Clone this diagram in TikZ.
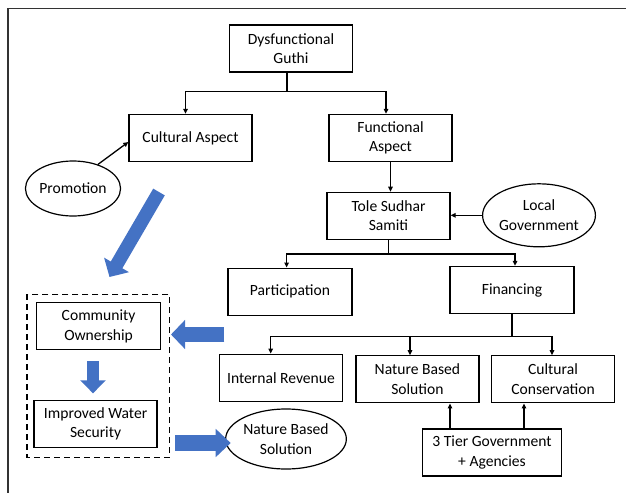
\documentclass[tikz,border=0pt]{standalone}
\usepackage{fontspec}
\setmainfont{Carlito}
\usetikzlibrary{arrows.meta,shapes.geometric}
\definecolor{ppblue}{RGB}{68,114,196}
\tikzset{
  >={Triangle[length=5pt,width=4.5pt]},
  blk/.style={draw,line width=1.3pt,minimum width=123pt,minimum height=47pt,
    align=center,inner sep=1pt,font=\fontsize{15.6}{19.5}\selectfont},
  oval/.style={ellipse,draw,line width=1.2pt,inner sep=0pt,align=center,
    font=\fontsize{15.6}{19.5}\selectfont},
  flow/.style={->,line width=1.3pt},
  fat/.style args={#1/#2/#3}{ppblue,line width=#1,-{Triangle[width=#2,length=#3]}},
}
\begin{document}
\begin{tikzpicture}[x=1pt,y=-1pt]
  \useasboundingbox (0,0) rectangle (626,493);
  \draw[line width=1.3pt,black!80] (626,8.3) -- (8,8.3) -- (8,493);
  % tree
  \node[blk] (dg) at (291,48.5) {Dysfunctional\\Guthi};
  \node[blk] (ca) at (190.5,138) {Cultural Aspect};
  \node[blk] (fa) at (390.5,138) {Functional\\Aspect};
  \node[blk] (ts) at (388.5,215.8) {Tole Sudhar\\Samiti};
  \node[blk,minimum width=124pt] (pa) at (290,291.7) {Participation};
  \node[blk,minimum width=124pt] (fi) at (512,290) {Financing};
  \foreach \n/\x/\y/\t in {ir/281/377.7/{Internal Revenue},nb/417.4/379.3/{Nature Based\\Solution},cc/553/379.3/{Cultural\\Conservation}}
    \node[blk] (\n) at (\x,\y) {\t};
  \node[blk,minimum width=139pt] (tg) at (492,452.5) {3 Tier Government\\+ Agencies};
  \node[oval,minimum width=106pt,minimum height=63pt] (lg) at (539,215.3) {Local\\Government};
  \node[oval,minimum width=86pt,minimum height=55pt] (pr) at (73,188.5) {Promotion};
  % left group
  \node[blk,minimum width=124pt] (co) at (98.6,326.3) {Community\\Ownership};
  \node[blk] (iw) at (95.6,423.7) {Improved Water\\Security};
  \node[oval,minimum width=106pt,minimum height=60pt] (ns) at (286,439) {Nature Based\\Solution};
  \draw[line width=1.3pt,dash pattern=on 6pt off 4pt] (27,294.3) rectangle (169.7,457.3);
  % connectors
  \draw[line width=1.3pt] ([xshift=-4pt]dg.south) -- ++(0,18.7) coordinate (j1);
  \draw[flow] (j1) -| ([xshift=-5pt]ca.north);
  \draw[flow] (j1) -| ([xshift=-4.5pt]fa.north);
  \draw[flow] (fa.south) -- (fa.south |- ts.north);
  \draw[flow] (lg.west) -- (lg.west -| ts.east);
  \draw[flow] (pr.44) -- ([yshift=-4pt]ca.west);
  \draw[line width=1.3pt] (ts.south) -- ++(0,14) coordinate (j2);
  \draw[flow] (j2) -| ([xshift=-3.4pt]pa.north);
  \draw[flow] (j2) -| ([xshift=3pt]fi.north);
  \draw[line width=1.3pt] (fi.south) -- ++(0,22.4) coordinate (j3);
  \draw[flow] (j3) -| ([xshift=-10.3pt]ir.north);
  \draw[flow] (j3) -| ([xshift=-7.4pt]nb.north);
  \draw[flow] (j3) -| ([xshift=-1pt]cc.north);
  \draw[flow] ([xshift=-42pt]tg.north) -- ([xshift=-42pt]tg.north |- nb.south);
  \draw[flow] ([xshift=32pt]tg.north) -- ([xshift=32pt]tg.north |- cc.south);
  % block arrows
  \coordinate (b1) at (159,192);
  \coordinate (b2) at (109.5,277);
  \coordinate (b3) at (224.4,334.5);
  \coordinate (b4) at (171,334.5);
  \coordinate (b5) at (93,361.3);
  \coordinate (b6) at (93,393.3);
  \coordinate (b7) at (175,443);
  \coordinate (b8) at (230.7,443);
  \draw[fat=13.4pt/28pt/14pt] (b1) -- (b2);
  \draw[fat=14.4pt/28.3pt/14pt] (b3) -- (b4);
  \draw[fat=12pt/25pt/13pt] (b5) -- (b6);
  \draw[fat=15.7pt/27.4pt/15pt] (b7) -- (b8);
\end{tikzpicture}
\end{document}
